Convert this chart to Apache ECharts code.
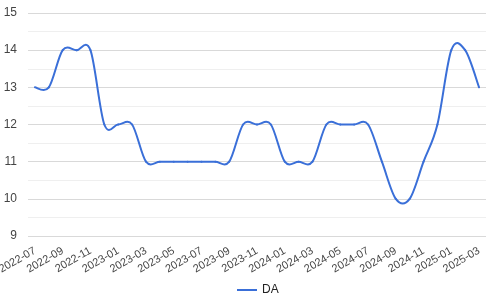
<!DOCTYPE html>
<html>
<head>
<meta charset="utf-8">
<script src="https://cdn.jsdelivr.net/npm/echarts@6/dist/echarts.min.js"></script>
<style>html,body{margin:0;padding:0;background:#fff}#c{width:500px;height:301px}</style>
</head>
<body>
<div id="c"></div>
<script>
const months = ['2022-07','2022-08','2022-09','2022-10','2022-11','2022-12',
  '2023-01','2023-02','2023-03','2023-04','2023-05','2023-06','2023-07','2023-08','2023-09','2023-10','2023-11','2023-12',
  '2024-01','2024-02','2024-03','2024-04','2024-05','2024-06','2024-07','2024-08','2024-09','2024-10','2024-11','2024-12',
  '2025-01','2025-02','2025-03'];
const da = [13,13,14,14,14,12,
  12,12,11,11,11,11,11,11,11,12,12,12,
  11,11,11,12,12,12,12,11,10,10,11,12,
  14,14,13];
const seriesName = 'DA';
const yTicks = {min: 9, max: 15, interval: 1};

const lineColor = '#3a6fd8';
const chart = echarts.init(document.getElementById('c'), null, {renderer: 'canvas'});

function clampIdx(k){ return Math.max(0, Math.min(da.length - 1, k)); }

chart.setOption({
  animation: false,
  backgroundColor: '#fff',
  grid: {left: 28, right: 14, top: 13, bottom: 65, containLabel: false, outerBoundsMode: 'none'},
  legend: {
    bottom: 0, left: 232,
    data: [{name: seriesName, icon: 'rect'}],
    itemWidth: 20, itemHeight: 2, itemGap: 6,
    textStyle: {fontFamily: 'Liberation Sans, Arial', fontSize: 12, color: '#222'}
  },
  xAxis: {
    type: 'category',
    data: months,
    boundaryGap: true,
    axisLine: {show: false},
    axisTick: {show: false},
    splitLine: {show: false},
    axisLabel: {interval: 1, rotate: 30, margin: 14, fontFamily: 'Liberation Sans, Arial', fontSize: 11, color: '#444'}
  },
  yAxis: {
    type: 'value',
    min: yTicks.min, max: yTicks.max, interval: yTicks.interval,
    axisLine: {show: false},
    axisTick: {show: false},
    axisLabel: {margin: 11, fontFamily: 'Liberation Sans, Arial', fontSize: 12, color: '#444'},
    splitLine: {lineStyle: {color: '#d9d9d9', width: 1}},
    minorTick: {show: false, splitNumber: 2},
    minorSplitLine: {show: true, lineStyle: {color: '#efefef', width: 1}}
  },
  series: [{
    type: 'custom',
    name: seriesName,
    itemStyle: {color: lineColor},
    data: da.map((v, i) => [i, v]),
    encode: {x: 0, y: 1},
    renderItem: function (params, api) {
      const i = params.dataIndex;
      if (i >= da.length - 1) return null;
      const p = k => { const c = clampIdx(k); return api.coord([c, da[c]]); };
      const p0 = p(i - 1), p1 = p(i), p2 = p(i + 1), p3 = p(i + 2);
      return {
        type: 'bezierCurve',
        shape: {
          x1: p1[0], y1: p1[1], x2: p2[0], y2: p2[1],
          cpx1: p1[0] + (p2[0] - p0[0]) / 6, cpy1: p1[1] + (p2[1] - p0[1]) / 6,
          cpx2: p2[0] - (p3[0] - p1[0]) / 6, cpy2: p2[1] - (p3[1] - p1[1]) / 6
        },
        style: {stroke: lineColor, lineWidth: 2, fill: null, lineCap: 'round'}
      };
    }
  }]
});
</script>
</body>
</html>
